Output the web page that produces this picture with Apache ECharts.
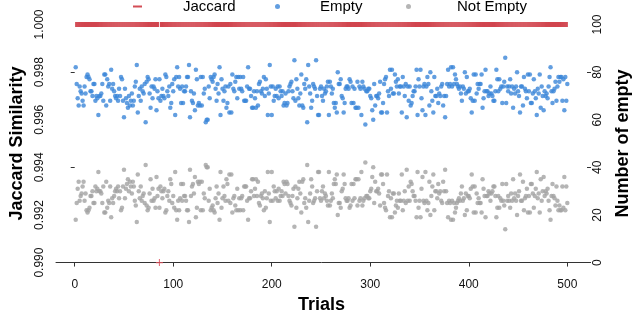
<!DOCTYPE html>
<html><head><meta charset="utf-8">
<script src="https://cdn.jsdelivr.net/npm/echarts@6/dist/echarts.min.js"></script>
<style>html,body{margin:0;padding:0;background:#fff}#c{width:640px;height:319px}</style>
</head><body><div id="c"></div>
<script>
// ---- data ----
const xTickLabels = [0, 100, 200, 300, 400, 500];
const leftTickLabels = [0.990, 0.992, 0.994, 0.996, 0.998, 1.000];
const leftTickMarks = [0.990, 0.994, 0.998];
const rightTickLabels = [0, 20, 40, 60, 80, 100];
const rightTickMarks = [0, 40, 80];

// Jaccard similarity per trial (1..500)
const jaccard = [
1,1,1,1,1,1,1,1,1,1,1,1,1,1,1,1,1,1,1,1,1,1,1,1,1,
1,1,1,1,1,1,1,1,1,1,1,1,1,1,1,1,1,1,1,1,1,1,1,1,1,
1,1,1,1,1,1,1,1,1,1,1,1,1,1,1,1,1,1,1,1,1,1,1,1,1,
1,1,1,1,1,1,1,1,1,1,0.990,1,1,1,1,1,1,1,1,1,1,1,1,1,1,
1,1,1,1,1,1,1,1,1,1,1,1,1,1,1,1,1,1,1,1,1,1,1,1,1,
1,1,1,1,1,1,1,1,1,1,1,1,1,1,1,1,1,1,1,1,1,1,1,1,1,
1,1,1,1,1,1,1,1,1,1,1,1,1,1,1,1,1,1,1,1,1,1,1,1,1,
1,1,1,1,1,1,1,1,1,1,1,1,1,1,1,1,1,1,1,1,1,1,1,1,1,
1,1,1,1,1,1,1,1,1,1,1,1,1,1,1,1,1,1,1,1,1,1,1,1,1,
1,1,1,1,1,1,1,1,1,1,1,1,1,1,1,1,1,1,1,1,1,1,1,1,1,
1,1,1,1,1,1,1,1,1,1,1,1,1,1,1,1,1,1,1,1,1,1,1,1,1,
1,1,1,1,1,1,1,1,1,1,1,1,1,1,1,1,1,1,1,1,1,1,1,1,1,
1,1,1,1,1,1,1,1,1,1,1,1,1,1,1,1,1,1,1,1,1,1,1,1,1,
1,1,1,1,1,1,1,1,1,1,1,1,1,1,1,1,1,1,1,1,1,1,1,1,1,
1,1,1,1,1,1,1,1,1,1,1,1,1,1,1,1,1,1,1,1,1,1,1,1,1,
1,1,1,1,1,1,1,1,1,1,1,1,1,1,1,1,1,1,1,1,1,1,1,1,1,
1,1,1,1,1,1,1,1,1,1,1,1,1,1,1,1,1,1,1,1,1,1,1,1,1,
1,1,1,1,1,1,1,1,1,1,1,1,1,1,1,1,1,1,1,1,1,1,1,1,1,
1,1,1,1,1,1,1,1,1,1,1,1,1,1,1,1,1,1,1,1,1,1,1,1,1,
1,1,1,1,1,1,1,1,1,1,1,1,1,1,1,1,1,1,1,1,1,1,1,1,1
];

// Number of empty per trial (1..500)
const empty = [
82,75,69,66,74,72,71,68,66,74,71,78,79,78,77,72,72,70,75,75,
68,70,69,62,70,70,71,75,68,79,79,66,77,74,75,68,81,73,75,72,
70,69,70,68,73,70,78,77,68,61,73,69,67,65,70,66,68,71,66,68,
74,76,83,63,70,73,68,74,72,71,75,59,76,78,77,71,65,74,69,74,
73,77,64,72,69,77,68,70,73,70,69,79,78,72,70,74,65,67,75,72,
77,62,78,82,74,78,73,67,74,67,72,72,74,78,
78,83,61,72,68,67,71,64,81,77,66,67,66,78,66,78,71,73,59,60,
60,74,69,78,77,76,78,79,73,68,75,71,82,62,77,73,68,72,74,65,
67,74,63,75,63,79,73,72,76,78,69,78,73,78,73,72,78,68,68,68,
74,82,73,73,70,65,65,72,69,65,72,66,75,76,72,71,73,78,70,77,
73,62,71,83,74,62,74,68,70,73,70,74,69,74,72,70,72,66,67,71,
66,67,72,74,75,76,72,69,85,68,77,73,69,66,71,79,66,65,75,73,
77,59,83,74,71,65,68,75,74,73,85,70,62,
62,73,74,70,68,73,71,72,74,76,62,76,74,71,73,67,65,
67,63,80,75,75,77,70,69,63,67,73,74,74,73,77,76,67,
74,67,73,65,65,76,65,74,73,62,76,74,73,58,72,72,
73,73,70,69,64,60,75,66,70,70,69,71,76,63,63,67,75,
77,78,63,72,70,81,73,81,71,71,79,76,74,77,71,74,74,
63,78,74,70,75,61,74,68,74,66,67,70,72,72,74,81,
62,77,74,81,69,64,74,75,62,74,78,75,66,80,72,68,63,
78,70,70,73,67,71,70,74,75,66,70,61,70,75,
81,74,75,82,74,82,75,79,77,75,74,73,74,71,68,74,73,
80,71,78,72,72,73,69,63,68,79,68,79,71,75,73,75,75,
79,65,69,72,81,72,72,70,71,74,71,70,68,68,72,81,
77,72,77,73,74,67,74,76,86,67,74,72,74,77,71,74,65,
73,71,74,80,72,70,63,74,74,66,78,73,72,69,79,72,79,
67,67,71,77,72,69,62,73,71,79,65,74,70,64,72,70,
71,69,74,78,82,72,67,72,73,76,68,74,78,76,78,78,68,
77,64,78,68,75
];

// Number of not-empty per trial (1..500)
const notEmpty = [
18,25,31,34,26,28,29,32,34,26,29,22,21,22,23,28,28,30,25,25,
32,30,31,38,30,30,29,25,32,21,21,34,23,26,25,32,19,27,25,28,
30,31,30,32,27,30,22,23,32,39,27,31,33,35,30,34,32,29,34,32,
26,24,17,37,30,27,32,26,28,29,25,41,24,22,23,29,35,26,31,26,
27,23,36,28,31,23,32,30,27,30,31,21,22,28,30,26,35,33,25,28,
23,38,22,18,26,22,27,33,26,33,28,28,26,22,
22,17,39,28,32,33,29,36,19,23,34,33,34,22,34,22,29,27,41,40,
40,26,31,22,23,24,22,21,27,32,25,29,18,38,23,27,32,28,26,35,
33,26,37,25,37,21,27,28,24,22,31,22,27,22,27,28,22,32,32,32,
26,18,27,27,30,35,35,28,31,35,28,34,25,24,28,29,27,22,30,23,
27,38,29,17,26,38,26,32,30,27,30,26,31,26,28,30,28,34,33,29,
34,33,28,26,25,24,28,31,15,32,23,27,31,34,29,21,34,35,25,27,
23,41,17,26,29,35,32,25,26,27,15,30,38,
38,27,26,30,32,27,29,28,26,24,38,24,26,29,27,33,35,
33,37,20,25,25,23,30,31,37,33,27,26,26,27,23,24,33,
26,33,27,35,35,24,35,26,27,38,24,26,27,42,28,28,
27,27,30,31,36,40,25,34,30,30,31,29,24,37,37,33,25,
23,22,37,28,30,19,27,19,29,29,21,24,26,23,29,26,26,
37,22,26,30,25,39,26,32,26,34,33,30,28,28,26,19,
38,23,26,19,31,36,26,25,38,26,22,25,34,20,28,32,37,
22,30,30,27,33,29,30,26,25,34,30,39,30,25,
19,26,25,18,26,18,25,21,23,25,26,27,26,29,32,26,27,
20,29,22,28,28,27,31,37,32,21,32,21,29,25,27,25,25,
21,35,31,28,19,28,28,30,29,26,29,30,32,32,28,19,
23,28,23,27,26,33,26,24,14,33,26,28,26,23,29,26,35,
27,29,26,20,28,30,37,26,26,34,22,27,28,31,21,28,21,
33,33,29,23,28,31,38,27,29,21,35,26,30,36,28,30,
29,31,26,22,18,28,33,28,27,24,32,26,22,24,22,22,32,
23,36,22,32,25
];

// ---- chart ----
const FONT = "'Liberation Sans', Arial, sans-serif";
const plusPath = 'path://M4.2,0H5.8V4.2H10V5.8H5.8V10H4.2V5.8H0V4.2H4.2Z';
const chart = echarts.init(document.getElementById('c'), null, {renderer: 'canvas'});

const jaccardData = jaccard.map((v, i) => v < 0.995
  ? {value: [i + 1, v], symbol: plusPath, symbolSize: 7, itemStyle: {color: '#e0505c'}}
  : [i + 1, v]);

const legendBase = {
  orient: 'horizontal', top: -1, padding: 0, selectedMode: false,
  textStyle: {fontFamily: FONT, fontSize: 15, color: '#000'}
};

chart.setOption({
  animation: false,
  backgroundColor: '#fff',
  textStyle: {fontFamily: FONT},
  grid: {left: 50, right: 46, top: 15, bottom: 38, containLabel: false},
  legend: [
    Object.assign({}, legendBase, {left: 133, itemWidth: 9, itemHeight: 2,
      data: [{name: 'Jaccard', icon: 'rect'}],
      textStyle: Object.assign({}, legendBase.textStyle, {padding: [0, 0, 0, 36]})}),
    Object.assign({}, legendBase, {left: 275, itemWidth: 5, itemHeight: 5,
      data: [{name: 'Empty', icon: 'circle'}],
      textStyle: Object.assign({}, legendBase.textStyle, {padding: [0, 0, 0, 35]})}),
    Object.assign({}, legendBase, {left: 406, itemWidth: 5, itemHeight: 5,
      data: [{name: 'Not Empty', icon: 'circle'}],
      textStyle: Object.assign({}, legendBase.textStyle, {padding: [0, 0, 0, 41]})})
  ],
  xAxis: {
    type: 'value', min: -19, max: 520,
    axisLine: {show: true, lineStyle: {color: '#333', width: 1}},
    axisTick: {show: true, customValues: xTickLabels, length: 4, lineStyle: {color: '#333'}},
    axisLabel: {customValues: xTickLabels, margin: 7, fontSize: 12, color: '#111', fontFamily: FONT},
    splitLine: {show: false},
    name: 'Trials', nameLocation: 'middle', nameGap: 21,
    nameTextStyle: {fontSize: 18, fontWeight: 'bold', color: '#000', fontFamily: FONT}
  },
  yAxis: [
    {
      type: 'value', position: 'left', min: 0.9896, max: 1.0004,
      axisLine: {show: false},
      axisTick: {show: true, customValues: leftTickMarks, length: 4, lineStyle: {color: '#333'}},
      axisLabel: {customValues: leftTickLabels, rotate: 90, margin: 10, fontSize: 12, color: '#111',
        fontFamily: FONT, formatter: v => Number(v).toFixed(3)},
      splitLine: {show: false},
      name: 'Jaccard Similarity', nameLocation: 'middle', nameGap: 30,
      nameTextStyle: {fontSize: 18, fontWeight: 'bold', color: '#000', fontFamily: FONT}
    },
    {
      type: 'value', position: 'right', min: -4, max: 104,
      axisLine: {show: false},
      axisTick: {show: true, customValues: rightTickMarks, length: 4, lineStyle: {color: '#333'}},
      axisLabel: {customValues: rightTickLabels, rotate: 90, margin: 5, fontSize: 12, color: '#111',
        fontFamily: FONT},
      splitLine: {show: false},
      name: 'Number of empty', nameLocation: 'middle', nameGap: 27,
      nameTextStyle: {fontSize: 18, fontWeight: 'bold', color: '#000', fontFamily: FONT}
    }
  ],
  series: [
    {name: 'Jaccard', type: 'scatter', xAxisIndex: 0, yAxisIndex: 0,
     symbol: 'rect', symbolSize: [1.2, 5], itemStyle: {color: '#c8202c'},
     data: jaccardData, z: 2},
    {name: 'Empty', type: 'scatter', xAxisIndex: 0, yAxisIndex: 1,
     symbol: 'circle', symbolSize: 4.5, itemStyle: {color: '#3b86d8'},
     data: empty.map((v, i) => [i + 1, v]), z: 3},
    {name: 'Not Empty', type: 'scatter', xAxisIndex: 0, yAxisIndex: 1,
     symbol: 'circle', symbolSize: 4.5, itemStyle: {color: '#a2a2a2'},
     data: notEmpty.map((v, i) => [i + 1, v]), z: 3}
  ]
});
</script>
</body></html>
